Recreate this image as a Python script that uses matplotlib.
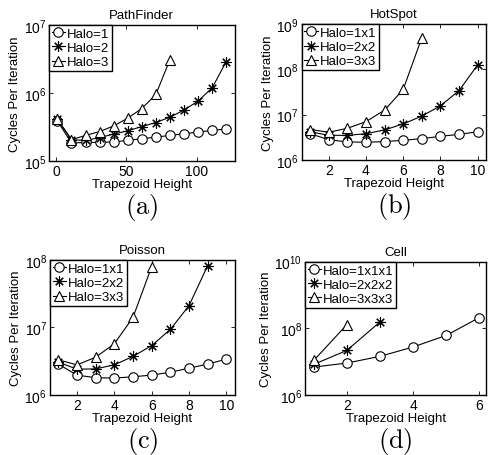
import numpy as np
import matplotlib
matplotlib.use("Agg")
from matplotlib import pyplot as plt

plt.rcParams['font.family'] = ['Liberation Sans', 'DejaVu Sans']
plt.rcParams['font.size'] = 9.5

# PathFinder
pf_x = [1, 11, 21, 31, 41, 51, 61, 71, 81, 91, 101, 111, 121]
pf_h1 = [3.9e5, 1.83e5, 1.87e5, 1.87e5, 1.9e5, 2.0e5, 2.12e5, 2.24e5, 2.37e5, 2.51e5, 2.65e5, 2.81e5, 2.95e5]
pf_h2 = [4.1e5, 2.05e5, 2.0e5, 2.2e5, 2.48e5, 2.77e5, 3.2e5, 3.67e5, 4.4e5, 5.6e5, 7.6e5, 1.19e6, 2.9e6]
pf_h3 = [4.1e5, 2.05e5, 2.37e5, 2.7e5, 3.27e5, 4.25e5, 5.9e5, 9.5e5, 3.1e6]

# HotSpot
hs_x = [1, 2, 3, 4, 5, 6, 7, 8, 9, 10]
hs_h1 = [3.8e6, 2.8e6, 2.5e6, 2.46e6, 2.54e6, 2.72e6, 2.95e6, 3.33e6, 3.67e6, 4.2e6]
hs_h2 = [4.2e6, 3.5e6, 3.5e6, 3.8e6, 4.6e6, 6.25e6, 9.3e6, 1.57e7, 3.4e7, 1.26e8]
hs_h3 = [4.7e6, 4.1e6, 5.0e6, 7.0e6, 1.26e7, 3.6e7, 5.0e8]

# Poisson
ps_x = [1, 2, 3, 4, 5, 6, 7, 8, 9, 10]
ps_h1 = [2.85e6, 1.96e6, 1.79e6, 1.77e6, 1.85e6, 1.96e6, 2.16e6, 2.48e6, 2.85e6, 3.38e6]
ps_h2 = [3.05e6, 2.4e6, 2.42e6, 2.78e6, 3.7e6, 5.36e6, 9.3e6, 2.09e7, 8.2e7]
ps_h3 = [3.3e6, 2.78e6, 3.6e6, 5.7e6, 1.4e7, 7.9e7]

# Cell
cl_x = [1, 2, 3, 4, 5, 6]
cl_h1 = [6.8e6, 9.0e6, 1.43e7, 2.74e7, 6.1e7, 2.1e8]
cl_h2 = [8.2e6, 2.16e7, 1.55e8]
cl_h3 = [1.08e7, 1.28e8]

panels = [
    ("PathFinder", pf_x, [pf_h1, pf_h2, pf_h3], ["Halo=1", "Halo=2", "Halo=3"],
     (-5, 127), (1e5, 1e7), [0, 50, 100], [1e5, 1e6, 1e7], "(a)"),
    ("HotSpot", hs_x, [hs_h1, hs_h2, hs_h3], ["Halo=1x1", "Halo=2x2", "Halo=3x3"],
     (0.55, 10.45), (1e6, 1e9), [2, 4, 6, 8, 10], [1e6, 1e7, 1e8, 1e9], "(b)"),
    ("Poisson", ps_x, [ps_h1, ps_h2, ps_h3], ["Halo=1x1", "Halo=2x2", "Halo=3x3"],
     (0.55, 10.45), (1e6, 1e8), [2, 4, 6, 8, 10], [1e6, 1e7, 1e8], "(c)"),
    ("Cell", cl_x, [cl_h1, cl_h2, cl_h3], ["Halo=1x1x1", "Halo=2x2x2", "Halo=3x3x3"],
     (0.74, 6.2), (1e6, 1e10), [2, 4, 6], [1e6, 1e8, 1e10], "(d)"),
]

# axes rectangles in figure fractions
rects = [[0.100, 0.645, 0.380, 0.298],
         [0.617, 0.647, 0.377, 0.298],
         [0.102, 0.132, 0.378, 0.296],
         [0.624, 0.132, 0.370, 0.292]]

markers = [dict(marker='o', ms=6.8), dict(marker=(8, 2, 0), ms=7.5), dict(marker='^', ms=7.8)]

fig = plt.figure(figsize=(4.89, 4.56), dpi=100)
for (title, xs, series, names, xl, yl, xt, yt, tag), r in zip(panels, rects):
    ax = fig.add_axes(r)
    for ys, nm, mk in zip(series, names, markers):
        ax.plot(xs[:len(ys)], ys, color='black', lw=0.8, mfc='white', mec='black',
                mew=0.8, label=nm, **mk)
    ax.set_yscale('log')
    ax.set_xlim(xl)
    ax.set_ylim(yl)
    ax.set_xticks(xt)
    ax.set_yticks(yt)
    ax.minorticks_off()
    ax.tick_params(direction='in', top=True, right=True, length=3, width=0.6, pad=2,
                   labelsize=10)
    for s in ax.spines.values():
        s.set_linewidth(1.0)
    ax.set_title(title, fontsize=9.5, pad=5)
    ax.set_xlabel("Trapezoid Height", labelpad=0)
    ax.set_ylabel("Cycles Per Iteration", labelpad=2)
    leg = ax.legend(loc='upper left', borderaxespad=0, handlelength=1.0, handletextpad=0.15,
                    labelspacing=0.15, borderpad=0.2, fancybox=False, framealpha=1,
                    edgecolor='black', fontsize=9.5)
    leg.get_frame().set_linewidth(1.0)
    fig.text(r[0] + r[2] / 2, r[1] - 0.066, r'$\mathrm{' + tag + '}$', math_fontfamily='cm',
             fontsize=19, ha='center', va='top')

plt.savefig("out.png", dpi=100)
